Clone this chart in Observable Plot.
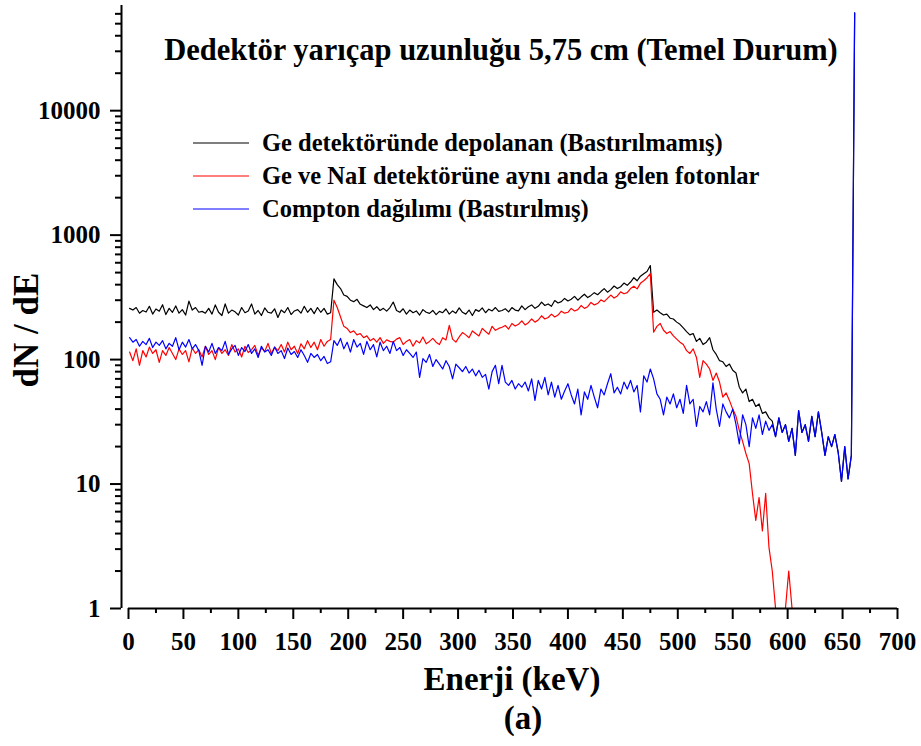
<!DOCTYPE html>
<html><head><meta charset="utf-8">
<script src="https://cdn.jsdelivr.net/npm/d3@7"></script>
<script src="https://cdn.jsdelivr.net/npm/@observablehq/plot@0.6"></script>
<style>
body{margin:0;background:#fff}
#chart{position:relative;width:921px;height:746px}
</style>
</head><body><div id="chart"></div>
<script>
// Energy bins (keV)
const energy = d3.range(1, 662, 3);

// Ge detektöründe depolanan (Bastırılmamış) — black
const geUnsuppressed = [
 258,250,262,236,248,241,268,232,255,245, 276,230,258,240,270,236,252,228,295,250,
 262,240,244,236,258,232,275,240,226,280, 236,250,242,228,262,238,246,280,232,248,
 226,260,240,236,256,218,250,238,262,230, 246,252,236,268,240,258,234,262,240,258, 232,
 238,445,400,372,330,322,300,292,305,278,270,262,275,252,266,248,258,245,262,
 290,248,240,256,232,250,238,246,228,252, 240,235,248,230,244,238,255,232,246,236,
 260,240,232,250,226,252,244,260,238,254, 246,262,244,
 248,256,242,262,250,246,270,252,266,275, 258,268,290,272,280,268,298,285,292,310,
 296,305,322,300,318,335,315,328,345,332, 352,372,348,365,390,372,385,412,395,420,
 455,430,468,490,510,570,
 240,250,238,228,232,215,212,200,192,180,168,158,
 162,140,148,132,138,150,120,110,98,96,88,92,82,78,60,54,58,46,48,42,44,37,38,34,
 32,24,34,26,30,22,28,17,39,26,30,22,35,24,38,26,17,24,20,25,18,10.5,20,11,17,61000
];

// Ge ve NaI detektörüne aynı anda gelen fotonlar — red
const coincidence = [
 115,98,122,90,118,105,126,112,120,95, 118,108,125,112,100,122,110,118,96,124,
 112,120,105,128,110,118,100,125,112,120, 108,132,115,122,105,128,114,120,130,108,
 124,116,135,112,126,118,132,115,138,120, 128,112,134,122,142,125,138,120,145,128, 140,
 145,300,262,220,185,178,165,170,158,162,150,155,142,148,138,150,135,144,140,
 138,146,150,132,140,145,128,142,136,152, 134,140,148,138,132,150,144,188,146,138,
 152,165,158,150,170,162,155,178,168,160, 185,172,178,
 182,188,176,195,186,192,205,190,198,212, 200,208,225,212,218,232,220,228,245,236,
 240,258,246,252,272,258,266,288,275,282, 302,292,310,330,312,325,350,338,345,372,
 388,370,410,430,455,490,
 166,185,195,172,162,168,155,146,138,132,118,112,
 122,104,72,98,92,84,68,78,66,50,54,47,40,35,27,22,17.6,14.6,8.4,5.1,7.8,4.2,8.4,3.1,
 2,1,1,1,1,2,1,null,null,null,null,null,null,null,null,null,null,null,null,null,null,null,null,null,null
];

// Compton dağılımı (Bastırılmış) — blue
const comptonSuppressed = [
 150,138,145,128,140,132,148,125,138,130, 142,122,135,128,150,120,138,126,145,122,
 132,118,90,128,115,135,112,125,118,140, 110,122,130,108,125,116,132,112,122,104,
 128,115,120,108,126,112,118,102,124,110, 116,104,120,108,95,112,104,110,98,106, 93,
 96,142,130,148,122,138,115,145,126,135,110,140,120,132,105,138,118,128,112,
 140,118,125,108,120,112,104,115,72,102, 95,110,88,100,92,84,98,88,70,92,
 86,80,88,78,84,74,82,72,76,58, 80,90,64,
 90,66,62,68,58,64,60,66,56,70, 47,68,58,72,52,66,50,62,48,56,
 64,52,44,58,36,55,48,62,50,41, 58,52,64,77,54,60,53,66,58,68,
 55,62,38,74,66,84,
 70,53,48,36,50,44,53,41,48,37,62,44,
 48,29,42,38,46,36,65,40,29,44,38,34,40,30,21,36,30,20,34,28,36,25,32,27,
 30,24,34,26,30,22,28,17,39,26,30,22,35,24,38,26,17,24,20,25,18,10.5,20,11,17,61000
];

// Axis ticks
const xTicks = [0,50,100,150,200,250,300,350,400,450,500,550,600,650,700];
const xMinor = [25,75,125,175,225,275,325,375,425,475,525,575,625,675];
const yTicks = [1,10,100,1000,10000];
const yMinor = [2,3,4,5,6,7,8,9,20,30,40,50,60,70,80,90,200,300,400,500,600,700,800,900,
  2000,3000,4000,5000,6000,7000,8000,9000,20000,30000,40000,50000,60000];

const seriesNames = ["Ge detektöründe depolanan (Bastırılmamış)",
                     "Ge ve NaI detektörüne aynı anda gelen fotonlar",
                     "Compton dağılımı (Bastırılmış)"];
const seriesColors = ["#000000", "#ff0000", "#0000ff"];
const seriesValues = [geUnsuppressed, coincidence, comptonSuppressed];

const rows = seriesValues.map(vals => energy.map((e, i) => ({E: e, v: vals[i]})));

const font = "'Liberation Serif', 'Times New Roman', serif";

const svg = Plot.plot({
  width: 921, height: 746,
  marginLeft: 128, marginRight: 24, marginTop: 5, marginBottom: 138,
  style: {fontFamily: font, fontWeight: "bold", fontSize: "25px", background: "#fff", color: "#000"},
  x: {domain: [0, 700]},
  y: {type: "log", domain: [1, 70000]},
  marks: [
    ...rows.map((r, k) => Plot.line(r, {x: "E", y: "v", stroke: seriesColors[k], strokeWidth: 1.2})),
    Plot.ruleX([0], {dx: -7, strokeWidth: 2}),
    Plot.ruleY([1], {strokeWidth: 2}),
    Plot.axisX({ticks: xTicks, tickSize: 11, tickPadding: 13, strokeWidth: 2, label: null, tickFormat: d => String(d)}),
    Plot.axisX({ticks: xMinor, tickSize: 5, strokeWidth: 2, label: null, tickFormat: () => ""}),
    Plot.axisY({ticks: yTicks, tickSize: 11, tickPadding: 10, dx: -7, strokeWidth: 2, label: null, tickFormat: d => String(d)}),
    Plot.axisY({ticks: yMinor, tickSize: 6, dx: -7, strokeWidth: 2, label: null, tickFormat: () => ""})
  ]
});

const s = d3.select(svg);
s.append("text").attr("x", 501).attr("y", 60).attr("text-anchor", "middle")
  .style("font-size", "30.5px").style("font-family", font).style("font-weight", "bold")
  .text("Dedektör yarıçap uzunluğu 5,75 cm (Temel Durum)");

const legendY = [143, 176, 209];
seriesNames.forEach((name, k) => {
  s.append("line").attr("x1", 193).attr("x2", 249).attr("y1", legendY[k]).attr("y2", legendY[k])
    .attr("stroke", seriesColors[k]).attr("stroke-width", 1.2);
  s.append("text").attr("x", 262).attr("y", legendY[k] + 8).attr("text-anchor", "start")
    .style("text-anchor", "start")
    .style("font-size", "24.5px").style("font-family", font).style("font-weight", "bold")
    .text(name);
});

s.append("text").attr("transform", "translate(38,330) rotate(-90)").attr("text-anchor", "middle")
  .style("font-size", "35px").style("font-family", font).style("font-weight", "bold")
  .text("dN / dE");
s.append("text").attr("x", 512).attr("y", 690).attr("text-anchor", "middle")
  .style("font-size", "33px").style("font-family", font).style("font-weight", "bold")
  .text("Enerji (keV)");
s.append("text").attr("x", 523).attr("y", 729).attr("text-anchor", "middle")
  .style("font-size", "33px").style("font-family", font).style("font-weight", "bold")
  .text("(a)");

document.getElementById("chart").appendChild(svg);
</script></body></html>
